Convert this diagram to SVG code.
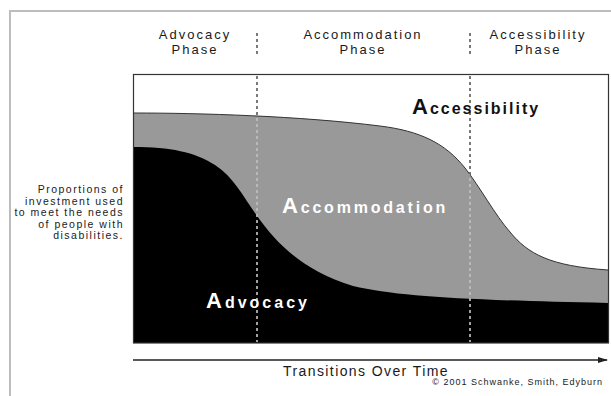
<svg xmlns="http://www.w3.org/2000/svg" width="611" height="396" viewBox="0 0 611 396">
  <style>
    text { font-family: "Liberation Sans", Arial, sans-serif; }
    .phase { font-size: 13px; fill: #1a1a1a; text-anchor: middle; letter-spacing: 2px; }
    .side { font-size: 10.5px; fill: #1a1a1a; text-anchor: end; letter-spacing: 1.5px; }
    .big { font-weight: bold; font-size: 16px; }
    .cap { font-size: 22px; }
    .dashdark { stroke: #222; stroke-width: 1.2; stroke-dasharray: 3 3; fill: none; }
    .dashwhite { stroke: #fff; stroke-width: 1.2; stroke-dasharray: 3 3; fill: none; }
  </style>
  <defs>
    <marker id="arrow" markerWidth="10" markerHeight="8" refX="9" refY="4" orient="auto" markerUnits="userSpaceOnUse">
      <path d="M0,1 L10,4 L0,7 Z" fill="#222"/>
    </marker>
    <clipPath id="shaded">
      <path d="M133.5,113 C200,113 300,116 380,126 C420,131 445,143 465,168 C480,187 495,215 510,232 C528,254 550,266 608,270 L608,343 L133.5,343 Z"/>
    </clipPath>
  </defs>
  <rect width="611" height="396" fill="#fff"/>
  <!-- outer frame -->
  <path d="M10,396 L10,11 L611,11" fill="none" stroke="#bdbdbd" stroke-width="2"/>

  <!-- phase headings -->
  <g id="phase-advocacy">
    <text class="phase" x="195" y="38.5">Advocacy</text>
    <text class="phase" x="195" y="53.5">Phase</text>
  </g>
  <g id="phase-accommodation">
    <text class="phase" x="363" y="38.5">Accommodation</text>
    <text class="phase" x="363" y="53.5">Phase</text>
  </g>
  <g id="phase-accessibility">
    <text class="phase" x="538" y="38.5">Accessibility</text>
    <text class="phase" x="538" y="53.5">Phase</text>
  </g>

  <!-- y-axis label -->
  <g id="y-label">
    <text class="side" x="124" y="193">Proportions of</text>
    <text class="side" x="124" y="204.5">investment used</text>
    <text class="side" x="124" y="216">to meet the needs</text>
    <text class="side" x="124" y="227.5">of people with</text>
    <text class="side" x="124" y="239">disabilities.</text>
  </g>

  <!-- chart areas -->
  <g id="chart">
    <rect x="133.5" y="74.5" width="475" height="268.5" fill="#fff"/>
    <path id="area-accommodation" d="M133.5,113 C200,113 300,116 380,126 C420,131 445,143 465,168 C480,187 495,215 510,232 C528,254 550,266 608,270 L608,343 L133.5,343 Z" fill="#999"/>
    <path d="M133.5,113 C200,113 300,116 380,126 C420,131 445,143 465,168 C480,187 495,215 510,232 C528,254 550,266 608,270" fill="none" stroke="#333" stroke-width="1"/>
    <path id="area-advocacy" d="M133.5,147 C170,147 195,152 215,165 C235,178 245,200 260,220 C275,240 300,270 353,286 C400,297 470,300 608,303 L608,343 L133.5,343 Z" fill="#000"/>
    <rect x="133.5" y="74.5" width="475" height="268.5" fill="none" stroke="#333" stroke-width="1.2"/>
  </g>

  <!-- phase dividers -->
  <g id="dividers">
    <line class="dashdark" x1="257" y1="33" x2="257" y2="55"/>
    <line class="dashdark" x1="470" y1="33" x2="470" y2="55"/>
    <line class="dashdark" x1="257" y1="76" x2="257" y2="342"/>
    <line class="dashdark" x1="470" y1="76" x2="470" y2="342"/>
    <g clip-path="url(#shaded)">
      <line class="dashwhite" x1="257" y1="76" x2="257" y2="342"/>
      <line class="dashwhite" x1="470" y1="76" x2="470" y2="342"/>
    </g>
  </g>

  <!-- area labels -->
  <g id="label-accessibility">
    <text class="big" x="412" y="114" fill="#111" letter-spacing="2"><tspan class="cap">A</tspan>ccessibility</text>
  </g>
  <g id="label-accommodation">
    <text class="big" x="282" y="213" fill="#fff" letter-spacing="2.8"><tspan class="cap">A</tspan>ccommodation</text>
  </g>
  <g id="label-advocacy">
    <text class="big" x="206" y="308" fill="#fff" letter-spacing="3"><tspan class="cap">A</tspan>dvocacy</text>
  </g>

  <!-- time axis -->
  <g id="connectors">
    <line x1="133" y1="360" x2="607" y2="360" stroke="#222" stroke-width="1.5" marker-end="url(#arrow)"/>
  </g>
  <g id="time-label">
    <text x="366" y="376" font-size="14" fill="#1a1a1a" text-anchor="middle" letter-spacing="1.4">Transitions Over Time</text>
  </g>
  <g id="copyright">
    <text x="603" y="385" font-size="9" fill="#1a1a1a" text-anchor="end" letter-spacing="1">© 2001 Schwanke, Smith, Edyburn</text>
  </g>
</svg>
